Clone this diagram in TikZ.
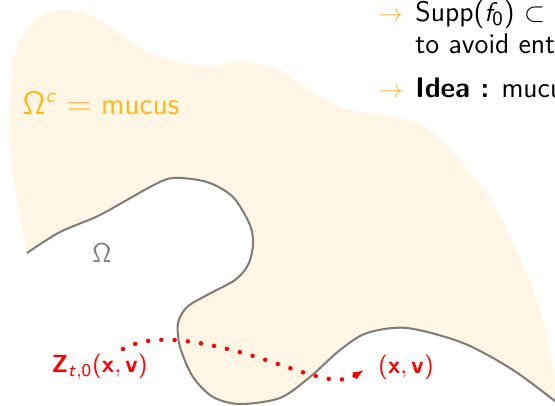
\documentclass[tikz,border=0pt]{standalone}
\definecolor{mucusorange}{RGB}{255, 184, 28}
\definecolor{mucuscream}{RGB}{255, 246, 230}
\definecolor{wallgray}{RGB}{128, 124, 118}
\usepackage{tikz}
\usetikzlibrary{arrows.meta, positioning}
\DeclareSymbolFont{operators}{OT1}{cmss}{m}{n}
\DeclareMathAlphabet{\mathsfit}{OT1}{cmss}{m}{sl}
\DeclareMathAlphabet{\mathsfbf}{OT1}{cmss}{bx}{n}

\begin{document}
\begin{tikzpicture}[x=0.4444pt, y=-0.4444pt,
        wall/.style={draw=wallgray, line width=0.9pt},
        lab/.style={inner sep=0pt, text=red,
                    font=\fontsize{10.8}{13}\selectfont\sffamily},
        traj/.style={red, line width=2pt, line cap=round,
                     dash pattern=on 0pt off 5.9pt,
                     -{Latex[length=5pt, width=3.8pt]}},
        item/.style={anchor=base west, inner sep=0pt,
                     font=\fontsize{12.6}{15}\selectfont\sffamily},
        bullet/.style={anchor=base west, inner sep=0pt, text=mucusorange,
                       font=\fontsize{11}{13.6}\selectfont}
      ]
        \useasboundingbox (0,0) rectangle (555,405);
        % mucus region, bounded below by the wall
        \fill[mucuscream] plot[smooth] coordinates {(27,253) (17,200) (9,140)
              (12,70) (22,35) (40,16) (60,10) (85,13) (110,27) (150,53)
              (200,66) (222,64) (236,61) (256,63) (280,70) (300,83) (343,108)
              (390,116) (420,124) (453,153) (493,203) (530,280) (548,340)
              (560,410)}
          -- plot[smooth] coordinates {(560,405) (513,370) (463,343)
              (407,328) (367,333) (340,350) (310,377) (280,398) (240,404)
              (213,397) (193,377) (180,347) (178,323) (187,307) (207,295)
              (235,280) (248,265) (253,245) (250,225) (233,197) (207,182)
              (173,178) (150,187) (100,215) (60,232) (27,253)} -- cycle;
        \draw[wall] plot[smooth] coordinates {(27,253) (60,232) (100,215)
              (150,187) (173,178) (207,182) (233,197) (250,225) (253,245)
              (248,265) (235,280) (207,295) (187,307) (178,323) (180,347)
              (193,377) (213,397) (240,404) (280,398) (310,377) (340,350)
              (367,333) (407,328) (463,343) (513,370) (560,405)};
        \node[text=mucusorange, font=\fontsize{13.4}{16}\selectfont\sffamily]
          (mucus) at (101,103) {$\Omega^{\mathsfit{c}} = $ mucus};
        \node[text=gray, font=\fontsize{12}{14}\selectfont\sffamily]
          (omega) at (102,253) {$\Omega$};
        % characteristic curve
        \coordinate (start) at (123,349);
        \coordinate (end) at (364,370);
        \node[lab, anchor=east] (zlab) at (148,367)
          {$\mathsfbf{Z}_{\mathsfit{t},0}(\mathsfbf{x},\mathsfbf{v})$};
        \node[lab, anchor=west] (xlab) at (378,367)
          {$(\mathsfbf{x},\mathsfbf{v})$};
        \draw[traj] (start) .. controls (150,334) and (190,338) .. (250,355)
              .. controls (300,370) and (335,388) .. (end);
        % slide text on the right
        \node[bullet] (arra) at (378,21) {$\rightarrow$};
        \node[item] (supp) at (415,21) {Supp($\mathsfit{f}_0$) $\subset$};
        \node[item] (avoid) at (415,53) {to avoid ent};
        \node[bullet] (arrb) at (378,97) {$\rightarrow$};
        \node[item] (idea) at (415,97) {\textbf{Idea :} mucu};
      \end{tikzpicture}
\end{document}
